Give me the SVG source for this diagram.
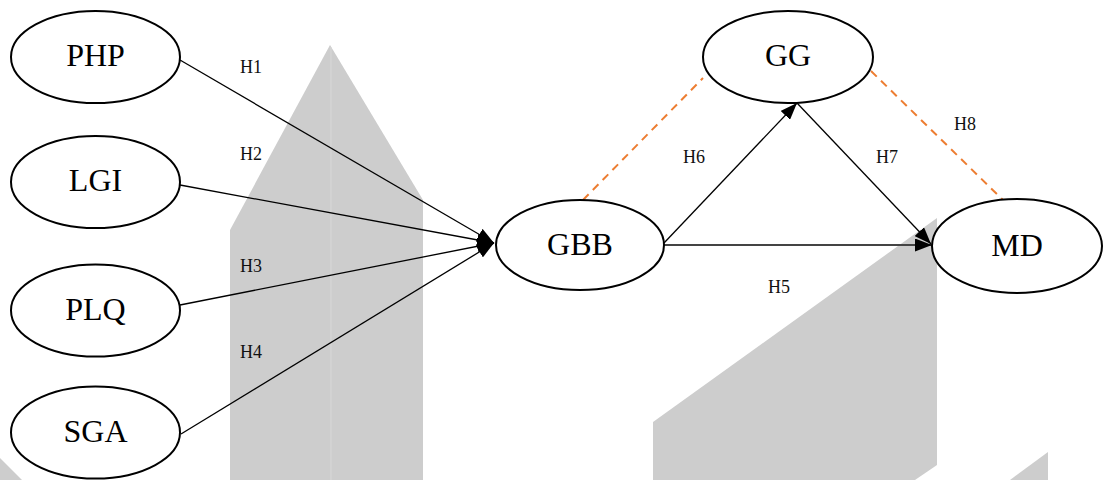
<svg xmlns="http://www.w3.org/2000/svg" width="1103" height="480" viewBox="0 0 1103 480">
  <style>
    .node ellipse { fill: #ffffff; stroke: #000000; stroke-width: 2; }
    .node text { font-family: "Liberation Serif", "Times New Roman", serif; font-size: 32px; text-anchor: middle; fill: #000000; }
    .label { font-family: "Liberation Serif", "Times New Roman", serif; font-size: 18px; fill: #111111; }
    .edge { stroke: #000000; stroke-width: 1.3; fill: none; }
    .edge-h5 { stroke: #444444; stroke-width: 2; fill: none; }
    .dash { stroke: #ED7D31; stroke-width: 2; stroke-dasharray: 8 6; fill: none; }
    .bg { fill: #cdcdcd; }
  </style>
  <defs>
    <marker id="arrow" viewBox="0 0 17 13" refX="17" refY="6.5" markerWidth="17" markerHeight="13" markerUnits="userSpaceOnUse" orient="auto">
      <path d="M0,0 L17,6.5 L0,13 z" fill="#000000"/>
    </marker>
  </defs>

  <rect width="1103" height="480" fill="#ffffff"/>

  <!-- background shapes -->
  <g id="background">
    <polygon class="bg" points="330,45 423,200 423,480 230,480 230,230"/>
    <line x1="331" y1="47" x2="331" y2="480" stroke="#d8d8d8" stroke-width="1"/>
    <polygon class="bg" points="653,422 937,218 937,465 915,480 653,480"/>
    <polygon class="bg" points="1048,452 1048,480 1010,480"/>
    <polygon class="bg" points="0,458 22,480 0,480"/>
  </g>

  <!-- connectors -->
  <g id="connectors">
    <line class="edge" x1="180" y1="60" x2="494" y2="243" marker-end="url(#arrow)"/>
    <line class="edge" x1="180" y1="185" x2="494" y2="243" marker-end="url(#arrow)"/>
    <line class="edge" x1="180" y1="305" x2="494" y2="243" marker-end="url(#arrow)"/>
    <line class="edge" x1="181" y1="434" x2="494" y2="243" marker-end="url(#arrow)"/>
    <line class="edge-h5" x1="664" y1="245" x2="932" y2="245" marker-end="url(#arrow)"/>
    <line class="edge" x1="664" y1="243" x2="797" y2="103" marker-end="url(#arrow)"/>
    <line class="edge" x1="797" y1="103" x2="931" y2="244" marker-end="url(#arrow)"/>
    <line class="dash" x1="583" y1="200" x2="703" y2="78"/>
    <line class="dash" x1="871" y1="71" x2="1003" y2="200"/>

    <text class="label" x="240" y="73">H1</text>
    <text class="label" x="240" y="160">H2</text>
    <text class="label" x="240" y="272">H3</text>
    <text class="label" x="240" y="358">H4</text>
    <text class="label" x="768" y="293">H5</text>
    <text class="label" x="683" y="163">H6</text>
    <text class="label" x="876" y="163">H7</text>
    <text class="label" x="954" y="130">H8</text>
  </g>

  <!-- nodes -->
  <g id="node-PHP" class="node">
    <ellipse cx="95.5" cy="57" rx="84.5" ry="46"/>
    <text x="95.5" y="66">PHP</text>
  </g>
  <g id="node-LGI" class="node">
    <ellipse cx="95.5" cy="182" rx="84.5" ry="46"/>
    <text x="95.5" y="191">LGI</text>
  </g>
  <g id="node-PLQ" class="node">
    <ellipse cx="95.5" cy="310.5" rx="84.5" ry="46"/>
    <text x="95.5" y="320">PLQ</text>
  </g>
  <g id="node-SGA" class="node">
    <ellipse cx="95.5" cy="432.5" rx="84.5" ry="46"/>
    <text x="95.5" y="442">SGA</text>
  </g>
  <g id="node-GBB" class="node">
    <ellipse cx="580" cy="245" rx="84" ry="45"/>
    <text x="580" y="255">GBB</text>
  </g>
  <g id="node-GG" class="node">
    <ellipse cx="788" cy="57" rx="85" ry="46"/>
    <text x="788" y="66">GG</text>
  </g>
  <g id="node-MD" class="node">
    <ellipse cx="1017" cy="246" rx="85" ry="47"/>
    <text x="1017" y="256">MD</text>
  </g>
</svg>
